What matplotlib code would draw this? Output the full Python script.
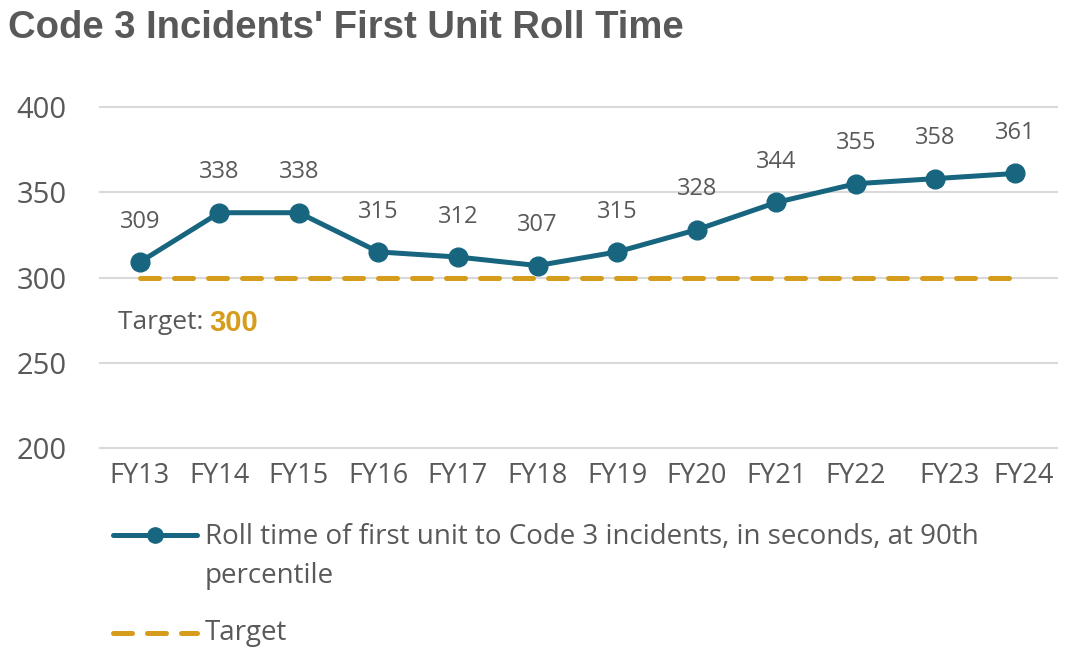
import matplotlib.pyplot as plt
from matplotlib.lines import Line2D
from matplotlib.transforms import ScaledTranslation

plt.rcParams['font.family'] = ['Open Sans', 'DejaVu Sans']

# donnees
annees = ["FY13", "FY14", "FY15", "FY16", "FY17", "FY18",
          "FY19", "FY20", "FY21", "FY22", "FY23", "FY24"]
temps_roulage = [309, 338, 338, 315, 312, 307, 315, 328, 344, 355, 358, 361]
cible = [300] * len(annees)
graduations_y = [200, 250, 300, 350, 400]

GRIS = "#595959"
BLEU = "#17657f"
OR = "#d69c1c"
POLICE_GRAS = ["Liberation Sans", "DejaVu Sans"]   # le gras d'Open Sans sort condense

W, H = 1086, 663
fig = plt.figure(figsize=(W / 100, H / 100), dpi=100)
ax = fig.add_axes([100 / W, 1 - 448 / H, (1057 - 100) / W, (448 - 107) / H])

x = list(range(len(annees)))

ax.plot(x, cible, color=OR, lw=3.6, dashes=(3.8, 3.0),
        dash_capstyle="round", zorder=2)
ax.plot(x, temps_roulage, color=BLEU, lw=3.6, marker="o",
        markersize=13.5, zorder=3)

for xi, v in zip(x, temps_roulage):
    ax.annotate(str(v), (xi, v), xytext=(0, 29), textcoords="offset points",
                ha="center", va="center", fontsize=17, color=GRIS)

ax.set_xlim(-0.5, 11.53)
ax.set_ylim(200, 400)
ax.set_yticks(graduations_y)
ax.set_xticks(x)
ax.set_xticklabels(annees)
ax.tick_params(axis="y", length=0, pad=24, labelsize=21, labelcolor=GRIS)
ax.tick_params(axis="x", length=0, pad=10, labelsize=19.5, labelcolor=GRIS)

# decalage des deux dernieres etiquettes comme dans l'original
labels = ax.get_xticklabels()
labels[10].set_transform(labels[10].get_transform() + ScaledTranslation(0.14, 0, fig.dpi_scale_trans))
labels[11].set_transform(labels[11].get_transform() + ScaledTranslation(0.09, 0, fig.dpi_scale_trans))

ax.grid(axis="y", color="#d9d9d9", lw=1.5)
ax.set_axisbelow(True)
for ligne in ax.get_ygridlines():
    ligne.set_clip_on(False)
for s in ax.spines.values():
    s.set_visible(False)

# texte cible
t = ax.text(-0.28, 273.5, "Target: ", fontsize=19, color=GRIS, va="center")
ax.annotate("300", xy=(1, 0.5), xycoords=t, va="center", ha="left",
            fontsize=21, family=POLICE_GRAS, fontweight="bold", color=OR)

# titre
fig.text(8 / W, 1 - 38 / H, "Code 3 Incidents' First Unit Roll Time",
         fontsize=27.5, family=POLICE_GRAS, fontweight="bold", color=GRIS,
         va="baseline")

# legende
y1 = 1 - 535 / H
fig.add_artist(Line2D([113 / W, 197 / W], [y1, y1], color=BLEU, lw=3.6,
                      solid_capstyle="round", transform=fig.transFigure))
fig.add_artist(Line2D([155 / W], [y1], color=BLEU, marker="o", markersize=11,
                      transform=fig.transFigure))
fig.text(205 / W, 1 - 537 / H,
         "Roll time of first unit to Code 3 incidents, in seconds, at 90th",
         fontsize=20, color=GRIS, va="center")
fig.text(205 / W, 1 - 576 / H, "percentile", fontsize=20, color=GRIS, va="center")

y2 = 1 - 633 / H
fig.add_artist(Line2D([113 / W, 197 / W], [y2, y2], color=OR, lw=3.6,
                      dashes=(3.8, 3.0), dash_capstyle="round",
                      transform=fig.transFigure))
fig.text(205 / W, 1 - 633 / H, "Target", fontsize=20, color=GRIS, va="center")

fig.savefig("out.png", dpi=100)
